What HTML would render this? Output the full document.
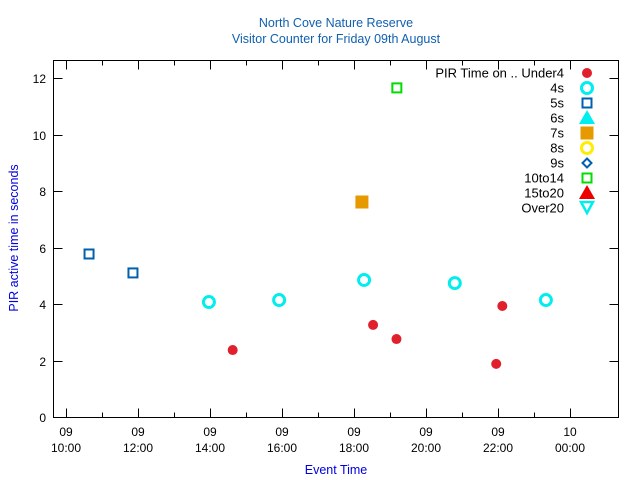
<!DOCTYPE html>
<html><head><meta charset="utf-8"><style>
html,body{margin:0;padding:0;background:#fff;}
svg{display:block;font-family:"Liberation Sans",sans-serif;}
</style></head><body>
<svg id="chart" width="640" height="480" viewBox="0 0 640 480">
<text x="336" y="27" text-anchor="middle" font-size="12.5" fill="#1060b0">North Cove Nature Reserve</text>
<text x="336" y="43" text-anchor="middle" font-size="12.5" fill="#1060b0">Visitor Counter for Friday 09th August</text>
<text x="336" y="474" text-anchor="middle" font-size="12.5" fill="#0000e0">Event Time</text>
<text transform="translate(18,238) rotate(-90)" text-anchor="middle" font-size="12.5" fill="#0000e0">PIR active time in seconds</text>
<g id="axes"></g><g id="marks"></g><g id="legend"></g>
</svg>
<script>
const xTickHours=[10,12,14,16,18,20,22,24];
const xTickLabels=["10:00","12:00","14:00","16:00","18:00","20:00","22:00","00:00"];
const xTickDays=["09","09","09","09","09","09","09","10"];
const yTicks=[0,2,4,6,8,10,12];
const under4Times=[14.63,18.53,19.18,21.95,22.12];
const under4Vals=[2.37,3.26,2.76,1.88,3.93];
const s4Times=[13.97,15.92,18.28,20.8,23.33];
const s4Vals=[4.07,4.14,4.85,4.74,4.14];
const s5Times=[10.64,11.86];
const s5Vals=[5.77,5.1];
const s7Times=[18.22];
const s7Vals=[7.61];
const s10Times=[19.19];
const s10Vals=[11.65];
const legendLabels=["PIR Time on .. Under4","4s","5s","6s","7s","8s","9s","10to14","15to20","Over20"];

const NS="http://www.w3.org/2000/svg";
const L=53.5,R=618.5,T=60.5,B=417.5;
const xs=h=>66+(h-10)*36;
const ys=v=>417-v*28.25;
function mk(tag,attrs,parent){const e=document.createElementNS(NS,tag);for(const k in attrs)e.setAttribute(k,attrs[k]);parent.appendChild(e);return e;}
const axes=document.getElementById('axes');
const frame=mk('rect',{x:L,y:T,width:R-L,height:B-T,fill:'none',stroke:'#000','stroke-width':1},axes);


for(let h=10;h<=24.5;h+=1){
  const x=Math.round(xs(h))+0.5,len=(h%2===0)?9:5;
  const t1=mk('line',{x1:x,y1:B,x2:x,y2:B-len,stroke:'#000'},axes);
  
  
  const t2=mk('line',{x1:x,y1:T,x2:x,y2:T+len,stroke:'#000'},axes);
  
  
}
xTickHours.forEach((h,i)=>{
  const x=xs(h);
  const a=mk('text',{x:x,y:436,'text-anchor':'middle','font-size':12},axes);a.textContent=xTickDays[i];
  
  
  const b=mk('text',{x:x,y:452,'text-anchor':'middle','font-size':12},axes);b.textContent=xTickLabels[i];
  
  
});
yTicks.forEach(v=>{
  const y=Math.round(ys(v))+0.5;
  const t=mk('line',{x1:L,y1:y,x2:L+9,y2:y,stroke:'#000'},axes);
  
  
  const t2=mk('line',{x1:R,y1:y,x2:R-9,y2:y,stroke:'#000'},axes);
  
  
  const lb=mk('text',{x:46,y:y+4.5,'text-anchor':'end','font-size':12},axes);lb.textContent=v;
  
  
});
function marker(type,x,y,parent){
  switch(type){
    case 0:return mk('circle',{cx:x,cy:y,r:5,fill:'#e0202a'},parent);
    case 1:return mk('circle',{cx:x,cy:y,r:5.5,fill:'none',stroke:'#00eeee','stroke-width':3},parent);
    case 2:return mk('rect',{x:x-4.5,y:y-4.5,width:9,height:9,fill:'none',stroke:'#0060b0','stroke-width':2},parent);
    case 3:return mk('polygon',{points:`${x},${y-8} ${x+8},${y+6} ${x-8},${y+6}`,fill:'#00eeee'},parent);
    case 4:return mk('rect',{x:x-6.5,y:y-6.5,width:13,height:13,fill:'#e69a00'},parent);
    case 5:return mk('circle',{cx:x,cy:y,r:5.5,fill:'none',stroke:'#ffee00','stroke-width':3},parent);
    case 6:return mk('polygon',{points:`${x},${y-4.5} ${x+4.5},${y} ${x},${y+4.5} ${x-4.5},${y}`,fill:'none',stroke:'#0060b0','stroke-width':2},parent);
    case 7:return mk('rect',{x:x-4.5,y:y-4.5,width:9,height:9,fill:'none',stroke:'#00dd00','stroke-width':2},parent);
    case 8:return mk('polygon',{points:`${x},${y-8} ${x+8},${y+6} ${x-8},${y+6}`,fill:'#ee0000'},parent);
    case 9:return mk('polygon',{points:`${x-6},${y-6} ${x+6},${y-6} ${x},${y+5}`,fill:'none',stroke:'#00eeee','stroke-width':2.5},parent);
  }
}
const marks=document.getElementById('marks');
const series=[[0,under4Times,under4Vals,'under4'],[1,s4Times,s4Vals,'4s'],[2,s5Times,s5Vals,'5s'],[4,s7Times,s7Vals,'7s'],[7,s10Times,s10Vals,'10to14']];
series.forEach(([type,ts,vs,nm])=>{
  ts.forEach((t,i)=>{
    const m=marker(type,xs(t),ys(vs[i]),marks);
    
    
  });
});
const legend=document.getElementById('legend');
legendLabels.forEach((lab,i)=>{
  const y=73+i*15;
  const t=mk('text',{x:564,y:y+4.5,'text-anchor':'end','font-size':13},legend);t.textContent=lab;
  
  
  const m=marker(i,587,y,legend);
  
  
});
</script>
</body></html>
